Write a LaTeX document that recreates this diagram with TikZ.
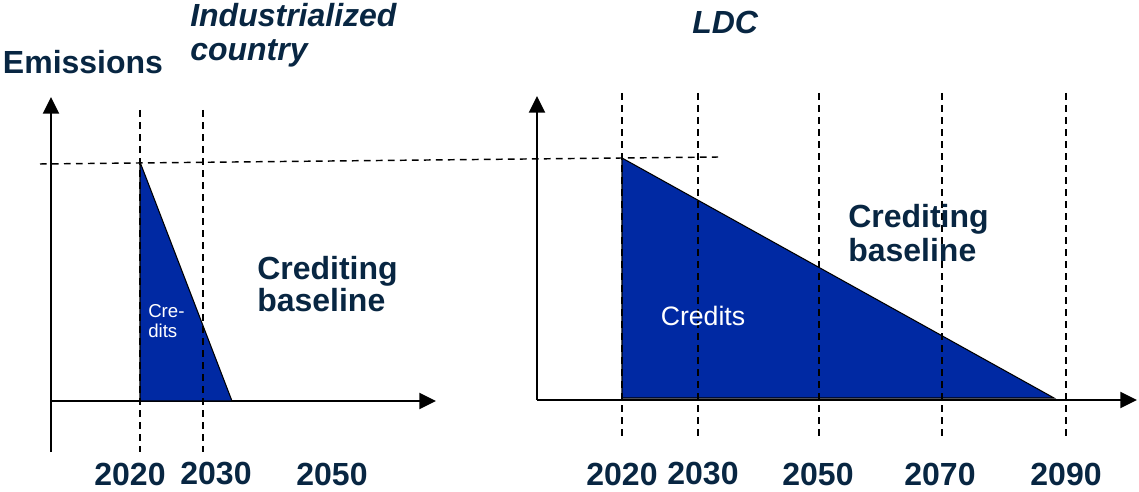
\documentclass[tikz,border=0pt]{standalone}
\usepackage{fontspec}
\setmainfont{Liberation Sans}
\usepackage{tikz}
\usetikzlibrary{arrows.meta}
\definecolor{navy}{RGB}{8, 38, 66}
\definecolor{creditblue}{RGB}{0, 41, 163}

\tikzset{
  axis/.style={line width=1.5pt, -{Triangle[length=12.5pt,width=12pt]}},
  guide/.style={line width=1.1pt, dash pattern=on 5pt off 4pt},
  credit/.style={fill=creditblue, draw=black, line width=0.8pt, line join=miter},
  big/.style={text=navy, font=\fontsize{24}{25}\selectfont\bfseries, inner sep=0.75pt},
  title/.style={text=navy, font=\fontsize{24}{25.5}\selectfont\bfseries\itshape, inner sep=0.75pt, align=left},
  year/.style={text=navy, font=\fontsize{24}{25}\selectfont\bfseries, inner sep=0.75pt}
}

\begin{document}
\begin{tikzpicture}[x=0.75pt,y=0.75pt,yscale=-1,xscale=1]
\useasboundingbox (0,0) rectangle (1139,492);

% axes of the industrialized country
\coordinate (o1) at (51,401);
\draw [axis] (51,452) -- (51,97) ;
\draw [axis] (o1) -- (436,401) ;
% axes of the LDC
\coordinate (o2) at (537,400);
\draw [axis] (o2) -- (537,96) ;
\draw [axis] (o2) -- (1137,400) ;

%Shape: Triangle (industrialized country)
\draw [credit] (140,162) -- (140,401) -- (232,401) -- cycle ;
%Shape: Triangle (LDC)
\draw [credit] (622,158) -- (622,398) -- (1054,398) -- cycle ;

%Dashed guide lines
\draw [guide] (40,164) -- (718,157) ;
\foreach \x in {140,203} {
  \draw [guide] (\x,110) -- (\x,452) ;
}
\foreach \x in {622,698,819,942,1066} {
  \draw [guide] (\x,93) -- (\x,440) ;
}

% Text Node
\node (emis) [big] at (83,62) {Emissions};
% Text Node
\node (ind) [title, anchor=west] at (189,35) {Industrialized\\country};
% Text Node
\node (ldc) [title, anchor=west] at (691,22) {LDC};
% Text Node
\node (base1) [big, anchor=west, align=left, font=\fontsize{24}{24}\selectfont\bfseries] at (256,284) {Crediting\\baseline};
% Text Node
\node (base2) [big, anchor=west, align=left, font=\fontsize{24}{25}\selectfont\bfseries] at (847,233) {Crediting\\baseline};
% Text Node
\node (cred1) [text=white, anchor=west, align=left, inner sep=0.75pt, font=\fontsize{14}{15}\selectfont] at (147,321) {Cre-\\dits};
% Text Node
\node (cred2) [text=white, inner sep=0.75pt, font=\fontsize{20}{22}\selectfont] at (703,316) {Credits};

% year labels
\foreach \x/\yr in {130/2020, 216/2030, 332/2050, 622/2020, 703/2030, 818/2050, 940/2070, 1066/2090} {
  \node [year] at (\x,474) {\yr};
}

\end{tikzpicture}
\end{document}
